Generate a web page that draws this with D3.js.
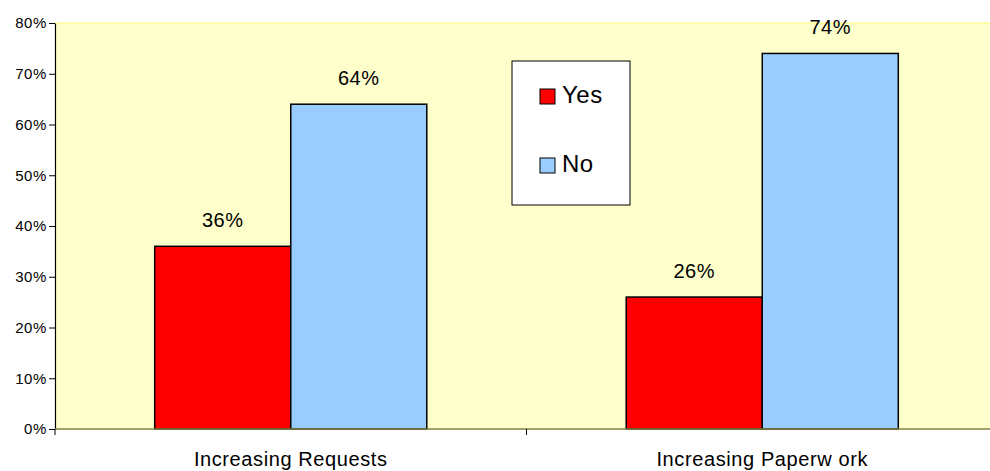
<!DOCTYPE html>
<html>
<head>
<meta charset="utf-8">
<script src="https://cdn.jsdelivr.net/npm/d3@7"></script>
<style>
  html, body { margin: 0; padding: 0; background: #fff; overflow: hidden; }
  svg { display: block; font-family: "Liberation Sans", Arial, sans-serif; }
</style>
</head>
<body>
<svg id="chart" width="990" height="471"></svg>
<script>
// Survey answers per question
const categories = ["Increasing Requests", "Increasing Paperw ork"];
const seriesNames = ["Yes", "No"];
const yesValues = [0.36, 0.26];
const noValues = [0.64, 0.74];
const yTicks = [0, 0.1, 0.2, 0.3, 0.4, 0.5, 0.6, 0.7, 0.8];

const colors = { Yes: "#FF0000", No: "#99CCFF" };

const svg = d3.select("#chart");
const plot = { left: 55, right: 998, top: 23, bottom: 429 };

const x0 = d3.scaleBand().domain(categories).range([plot.left, plot.right]).paddingInner(0).paddingOuter(0);
const x1 = d3.scaleBand().domain(seriesNames).range([0, x0.bandwidth()]).paddingInner(0).paddingOuter(0.733);
const y = d3.scaleLinear().domain([0, 0.8]).range([plot.bottom, plot.top]);

// plot background
svg.append("rect")
  .attr("x", plot.left).attr("y", plot.top)
  .attr("width", plot.right - plot.left).attr("height", plot.bottom - plot.top)
  .attr("fill", "#FFFFCC");
svg.append("line")
  .attr("x1", plot.left).attr("x2", plot.right)
  .attr("y1", plot.top).attr("y2", plot.top)
  .attr("stroke", "#FFFF99").attr("stroke-width", 1.5);

const rows = categories.map((c, i) => ({ category: c, values: [
  { key: "Yes", value: yesValues[i] },
  { key: "No", value: noValues[i] }
]}));

const groups = svg.append("g").selectAll("g")
  .data(rows).join("g")
  .attr("transform", d => `translate(${x0(d.category)},0)`);

groups.selectAll("rect")
  .data(d => d.values).join("rect")
  .attr("x", d => x1(d.key))
  .attr("y", d => y(d.value))
  .attr("width", x1.bandwidth())
  .attr("height", d => y(0) - y(d.value))
  .attr("fill", d => colors[d.key])
  .attr("stroke", "#000").attr("stroke-width", 1.5);

groups.selectAll("text")
  .data(d => d.values).join("text")
  .attr("x", d => x1(d.key) + x1.bandwidth() / 2)
  .attr("y", d => y(d.value) - 19)
  .attr("text-anchor", "middle")
  .attr("font-size", 20)
  .attr("letter-spacing", 0.5)
  .attr("fill", "#000")
  .text(d => d3.format(".0%")(d.value));

// y axis
const yAxis = svg.append("g")
  .attr("transform", `translate(${plot.left},0)`)
  .call(d3.axisLeft(y).tickValues(yTicks).tickFormat(d3.format(".0%")).tickSize(6).tickSizeOuter(0));
yAxis.select(".domain").attr("stroke", "#000").attr("stroke-width", 1.2);
yAxis.selectAll(".tick line").attr("stroke", "#000");
yAxis.selectAll(".tick text")
  .attr("font-size", 15)
  .attr("letter-spacing", 0.6)
  .attr("font-family", "Liberation Sans, Arial, sans-serif")
  .attr("fill", "#000")
  .attr("x", -8);

// x axis
svg.append("line")
  .attr("x1", plot.left).attr("x2", plot.right)
  .attr("y1", plot.bottom).attr("y2", plot.bottom)
  .attr("stroke", "#808040").attr("stroke-width", 1.5);
svg.append("g").selectAll("line")
  .data(categories.slice(1)).join("line")
  .attr("x1", d => x0(d)).attr("x2", d => x0(d))
  .attr("y1", plot.bottom).attr("y2", plot.bottom + 6)
  .attr("stroke", "#000");
svg.append("line")
  .attr("x1", plot.left).attr("x2", plot.left)
  .attr("y1", plot.bottom).attr("y2", plot.bottom + 6)
  .attr("stroke", "#000");
svg.append("g").selectAll("text")
  .data(categories).join("text")
  .attr("x", d => x0(d) + x0.bandwidth() / 2)
  .attr("y", 466)
  .attr("text-anchor", "middle")
  .attr("font-size", 20)
  .attr("letter-spacing", 0.6)
  .attr("fill", "#000")
  .text(d => d);

// legend
const legend = svg.append("g").attr("transform", "translate(512,61)");
legend.append("rect")
  .attr("width", 118).attr("height", 144)
  .attr("fill", "#fff").attr("stroke", "#000").attr("stroke-width", 1);
const items = legend.selectAll("g.item")
  .data(seriesNames).join("g")
  .attr("class", "item")
  .attr("transform", (d, i) => `translate(28,${28 + i * 69})`);
items.append("rect")
  .attr("width", 15).attr("height", 15)
  .attr("fill", d => colors[d]).attr("stroke", "#000").attr("stroke-width", 1);
items.append("text")
  .attr("x", 22).attr("y", 14)
  .attr("font-size", 24)
  .attr("letter-spacing", 0.5)
  .attr("fill", "#000")
  .text(d => d);
</script>
</body>
</html>
